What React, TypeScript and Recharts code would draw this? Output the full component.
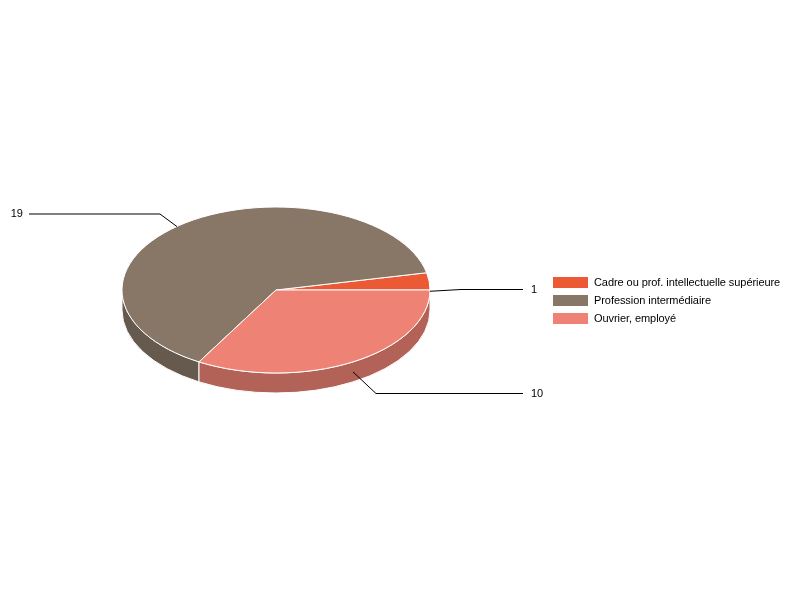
import { Legend, Pie, PieChart } from "recharts";

const categories = ["Cadre ou prof. intellectuelle supérieure", "Profession intermédiaire", "Ouvrier, employé"];
const counts = [1, 19, 10];
const topColors = ["#ec5a35", "#887667", "#ee8274"];
const wallColors = ["#b14428", "#66594d", "#b26257"];

const topData = categories.map((name, i) => ({ name, value: counts[i], fill: topColors[i] }));
const wallData = categories.map((name, i) => ({ name, value: counts[i], fill: wallColors[i] }));

const CX = 276;
const CY = 290;
const RX = 154;
const RY = 83;
const DEPTH = 20;
const font = "'Liberation Sans', Arial, sans-serif";

// where each leader bends and ends
const leaders = [
  { bendX: 461, bendY: 289.5, endX: 523 },
  { bendX: 160, bendY: 214, endX: 29 },
  { bendX: 376, bendY: 393.5, endX: 523 },
];

const rad = (deg: number) => (deg * Math.PI) / 180;
const px = (deg: number) => CX + RX * Math.cos(rad(deg));
const py = (deg: number) => CY - RY * Math.sin(rad(deg));

// labels paint above the slices, so stop the leader where it reaches the top face
function clipToDisc(fromX: number, fromY: number, toX: number, toY: number) {
  const inside = (x: number, y: number) => ((x - CX) / RX) ** 2 + ((y - CY) / RY) ** 2 < 1;
  if (!inside(toX, toY)) return [toX, toY];
  for (let t = 0; t <= 1; t += 0.005) {
    const x = fromX + (toX - fromX) * t;
    const y = fromY + (toY - fromY) * t;
    if (inside(x, y)) return [x, y];
  }
  return [toX, toY];
}

function TopSlice({ startAngle, endAngle, fill }: any) {
  const large = endAngle - startAngle > 180 ? 1 : 0;
  const d = `M${CX},${CY} L${px(startAngle)},${py(startAngle)} A${RX},${RY} 0 ${large} 0 ${px(endAngle)},${py(endAngle)} Z`;
  return <path d={d} fill={fill} stroke="#fff" strokeWidth={1} strokeLinejoin="round" />;
}

function WallSlice({ startAngle, endAngle, fill }: any) {
  // only the front half of the disc shows a side
  const a0 = Math.max(startAngle, 180);
  const a1 = Math.min(endAngle, 360);
  if (a1 <= a0) return <g />;
  const d =
    `M${px(a0)},${py(a0)} A${RX},${RY} 0 0 0 ${px(a1)},${py(a1)} ` +
    `L${px(a1)},${py(a1) + DEPTH} A${RX},${RY} 0 0 1 ${px(a0)},${py(a0) + DEPTH} Z`;
  return <path d={d} fill={fill} stroke="#fff" strokeWidth={1} strokeLinejoin="round" />;
}

function Leader({ midAngle, value, index }: any) {
  const l = leaders[index];
  const [sx, sy] = clipToDisc(l.bendX, l.bendY, px(midAngle), py(midAngle) + DEPTH / 2);
  const left = l.endX < l.bendX;
  return (
    <g>
      <polyline points={`${sx},${sy} ${l.bendX},${l.bendY} ${l.endX},${l.bendY}`} fill="none" stroke="#000" strokeWidth={1} />
      <text
        x={left ? l.endX - 6 : l.endX + 8}
        y={Math.floor(l.bendY + 3.5)}
        textAnchor={left ? "end" : "start"}
        fontFamily={font}
        fontSize={11}
        fill="#000"
      >
        {value}
      </text>
    </g>
  );
}

function LegendList() {
  return (
    <div style={{ fontFamily: font, fontSize: 11, color: "#000", letterSpacing: -0.07 }}>
      {categories.map((name, i) => (
        <div key={name} style={{ display: "flex", alignItems: "center", height: 18 }}>
          <span style={{ width: 35, height: 11, background: topColors[i], marginRight: 6, flex: "none" }} />
          <span style={{ whiteSpace: "nowrap" }}>{name}</span>
        </div>
      ))}
    </div>
  );
}

export default function App() {
  return (
    <div style={{ position: "absolute", left: 0, top: 0, width: 800, height: 600, willChange: "transform" }}>
      <PieChart width={800} height={600} margin={{ top: 0, right: 0, bottom: 0, left: 0 }}>
        <Pie
          data={wallData}
          dataKey="value"
          nameKey="name"
          cx={CX}
          cy={CY}
          outerRadius={RX}
          startAngle={0}
          endAngle={360}
          shape={WallSlice}
          label={Leader}
          labelLine={false}
          legendType="none"
          isAnimationActive={false}
        />
        <Pie
          data={topData}
          dataKey="value"
          nameKey="name"
          cx={CX}
          cy={CY}
          outerRadius={RX}
          startAngle={0}
          endAngle={360}
          shape={TopSlice}
          label={false}
          labelLine={false}
          isAnimationActive={false}
        />
        <Legend
          content={LegendList}
          wrapperStyle={{ left: 553, top: 273, width: 240, bottom: "auto" }}
        />
      </PieChart>
    </div>
  );
}
